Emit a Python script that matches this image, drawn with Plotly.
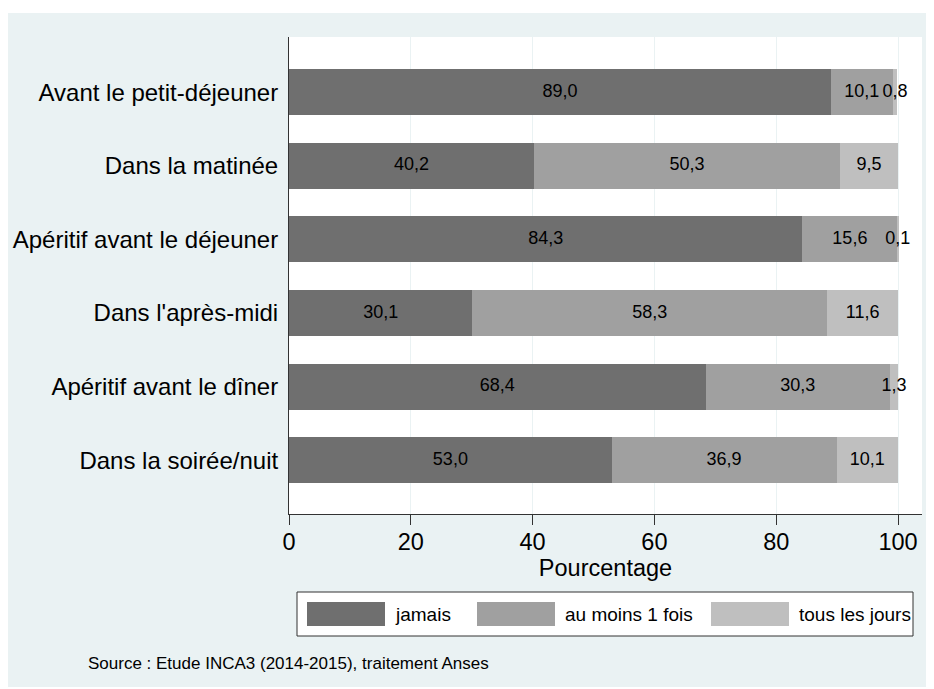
import plotly.graph_objects as go

# ---------------- data ----------------
categories = [
    "Avant le petit-déjeuner",
    "Dans la matinée",
    "Apéritif avant le déjeuner",
    "Dans l'après-midi",
    "Apéritif avant le dîner",
    "Dans la soirée/nuit",
]
series_names = ["jamais", "au moins 1 fois", "tous les jours"]
jamais = [89.0, 40.2, 84.3, 30.1, 68.4, 53.0]
au_moins_1_fois = [10.1, 50.3, 15.6, 58.3, 30.3, 36.9]
tous_les_jours = [0.8, 9.5, 0.1, 11.6, 1.3, 10.1]
x_ticks = [0, 20, 40, 60, 80, 100]
x_title = "Pourcentage"
source_text = "Source : Etude INCA3 (2014-2015), traitement Anses"

# ---------------- styling ----------------
W, H = 934, 689
OFF = 8  # page body offset in the screenshot
ML, MT = 281, 29
PR, PB = 914, 506  # right and bottom edge of the plot area (figure px)
MR, MB = W - PR, H - PB
PW, PH = PR - ML, PB - MT
FONT = "Liberation Sans, Arial, sans-serif"
PANEL = "#EAF2F3"
colors = ["#6F6F6F", "#A0A0A0", "#BFBFBF"]


def px(x):
    return (x - OFF - ML) / PW


def py(y):
    return (PB - (y - OFF)) / PH


def fmt(v):
    return f"{v:.1f}".replace(".", ",")


all_series = [jamais, au_moins_1_fois, tous_les_jours]

fig = go.Figure()
for name, vals, col in zip(series_names, all_series, colors):
    fig.add_trace(go.Bar(
        y=categories, x=vals, name=name, orientation="h",
        marker=dict(color=col, line=dict(width=0)),
        showlegend=False, hoverinfo="x+y",
    ))

# segment labels, centred in each segment
cum = [0.0] * len(categories)
for vals in all_series:
    centers = [c + v / 2 for c, v in zip(cum, vals)]
    fig.add_trace(go.Scatter(
        y=categories, x=centers, mode="text",
        text=[fmt(v) for v in vals],
        textposition="middle center",
        textfont=dict(family=FONT, size=18, color="#000000"),
        showlegend=False, hoverinfo="skip", cliponaxis=False,
    ))
    cum = [c + v for c, v in zip(cum, vals)]

shapes = [
    # outer panel
    dict(type="rect", xref="paper", yref="paper", layer="below",
         x0=px(8), x1=px(W + 20), y0=py(687), y1=py(13),
         fillcolor=PANEL, line=dict(width=0)),
    # plot area
    dict(type="rect", xref="paper", yref="paper", layer="below",
         x0=0, x1=1, y0=0, y1=1, fillcolor="#FFFFFF", line=dict(width=0)),
    # legend box
    dict(type="rect", xref="paper", yref="paper", layer="above",
         x0=px(297), x1=px(913), y0=py(636), y1=py(592),
         fillcolor="#FFFFFF", line=dict(color="#333333", width=1)),
]
annotations = []
sw_x = [(307, 385), (477, 555), (711, 789)]
txt_x = [393, 563, 797]
for (a, b), tx, name, col in zip(sw_x, txt_x, series_names, colors):
    shapes.append(dict(type="rect", xref="paper", yref="paper", layer="above",
                       x0=px(a), x1=px(b), y0=py(626), y1=py(602),
                       fillcolor=col, line=dict(width=0)))
    annotations.append(dict(xref="paper", yref="paper", x=px(tx), y=py(614),
                            xanchor="left", yanchor="middle", showarrow=False,
                            text=name, font=dict(family=FONT, size=19, color="#000000")))

annotations.append(dict(xref="paper", yref="paper", x=px(86), y=py(663),
                        xanchor="left", yanchor="middle", showarrow=False,
                        text=source_text, font=dict(family=FONT, size=17, color="#000000")))

fig.update_layout(
    width=W, height=H,
    margin=dict(l=ML, r=MR, t=MT, b=MB, pad=0),
    paper_bgcolor="#FFFFFF", plot_bgcolor="#FFFFFF",
    barmode="stack", bargap=0.375,
    font=dict(family=FONT, color="#000000"),
    shapes=shapes, annotations=annotations,
    showlegend=False,
)
fig.update_xaxes(
    range=[0, 103.94], tickvals=x_ticks, ticktext=[str(t) for t in x_ticks],
    ticks="outside", ticklen=10, tickwidth=1, tickcolor="#333333",
    showline=True, linecolor="#333333", linewidth=1,
    showgrid=True, gridcolor=PANEL, gridwidth=1, zeroline=False,
    ticklabelstandoff=-3,
    tickfont=dict(family=FONT, size=23.5, color="#000000"),
    title=dict(text=x_title, font=dict(family=FONT, size=23.5, color="#000000"), standoff=0),
    automargin=False,
)
fig.update_yaxes(
    categoryorder="array", categoryarray=categories,
    range=[5.73, -0.75], showgrid=False, zeroline=False,
    showline=True, linecolor="#333333", linewidth=1, ticks="",
    ticklabelstandoff=5,
    tickfont=dict(family=FONT, size=24, color="#000000"),
    automargin=False,
)

fig.write_html("out.html")
